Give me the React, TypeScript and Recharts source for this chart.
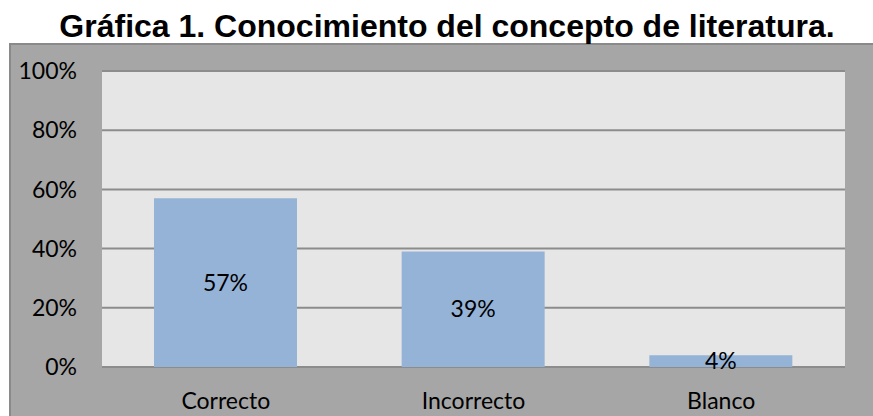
import React from 'react';
import { BarChart, Bar, XAxis, YAxis, CartesianGrid, LabelList } from 'recharts';

const title = 'Gráfica 1. Conocimiento del concepto de literatura.';
const categories = ['Correcto', 'Incorrecto', 'Blanco'];
const percentages = [57, 39, 4];
const yTicks = [0, 20, 40, 60, 80, 100];

const data = categories.map((c, i) => ({ name: c, value: percentages[i] }));

const labelFont = 'Lato, "Open Sans", sans-serif';

export default function App() {
  return (
    <div style={{ position: 'absolute', left: 0, top: 0, width: 873, height: 416, background: '#ffffff', overflow: 'hidden' }}>
      <div
        style={{
          position: 'absolute', left: 9, top: 43, width: 900, height: 420,
          background: '#a6a6a6', borderLeft: '2px solid #8a8a8a', borderTop: '2px solid #8a8a8a', boxSizing: 'border-box',
        }}
      />
      <div
        style={{
          position: 'absolute', left: 0, top: 10, width: 894, textAlign: 'center', whiteSpace: 'nowrap',
          fontFamily: '"Liberation Sans", Arial, sans-serif', fontWeight: 'bold', fontSize: 32, color: '#000', lineHeight: '32px',
        }}
      >
        {title}
      </div>
      <div style={{ position: 'absolute', left: 0, top: 0 }}>
        <BarChart width={873} height={416} data={data} margin={{ top: 71, right: 28, bottom: 0, left: 2 }}>
          <CartesianGrid vertical={false} horizontal={true} stroke="#8c8c8c" strokeWidth={2} fill="#e6e6e6" fillOpacity={1} />
          <XAxis
            dataKey="name"
            height={49}
            axisLine={false}
            tickLine={false}
            tickSize={0}
            tickMargin={26}
            tick={{ fill: '#000', fontSize: 23, fontFamily: labelFont }}
          />
          <YAxis
            width={100}
            domain={[0, 100]}
            ticks={yTicks}
            axisLine={false}
            tickLine={false}
            tickSize={0}
            tickMargin={25}
            tickFormatter={(v: number) => `${v}%`}
            tick={{ fill: '#000', fontSize: 23, fontFamily: labelFont }}
          />
          <Bar dataKey="value" fill="#95b3d7" barSize={143} isAnimationActive={false}>
            <LabelList
              dataKey="value"
              position="center"
              formatter={(v: number) => `${v}%`}
              fill="#000"
              style={{ fontSize: 23, fontFamily: labelFont }}
            />
          </Bar>
        </BarChart>
      </div>
    </div>
  );
}
